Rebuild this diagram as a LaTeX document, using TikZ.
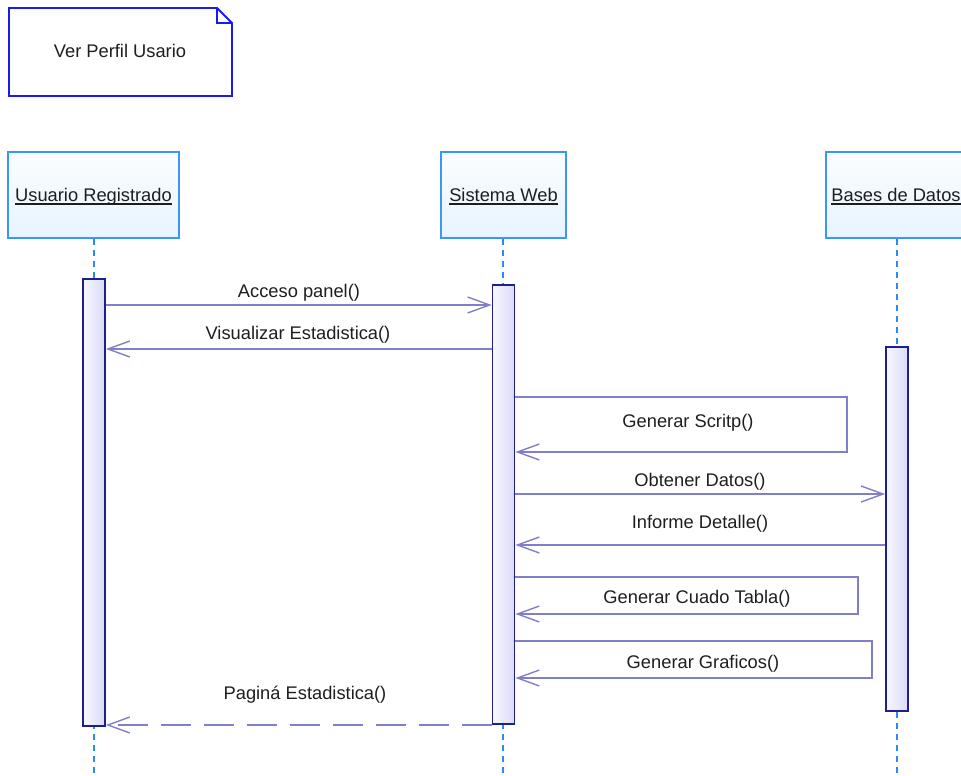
\documentclass[tikz,border=0pt]{standalone}
\usepackage{fontspec}
\setmainfont{Liberation Sans}
\usetikzlibrary{arrows.meta}

\definecolor{msg}{RGB}{128,128,200}
\definecolor{barline}{RGB}{30,30,140}
\definecolor{barfillL}{RGB}{248,248,255}
\definecolor{barfillR}{RGB}{218,218,248}
\definecolor{headline}{RGB}{60,150,245}
\definecolor{headfillA}{RGB}{250,253,255}
\definecolor{headfillB}{RGB}{232,244,255}
\definecolor{lifeline}{RGB}{40,140,240}
\definecolor{notebd}{RGB}{25,25,245}
\definecolor{txt}{RGB}{30,30,30}

\tikzset{
  lbl/.style={font=\fontsize{18.3}{22}\selectfont, text=txt, inner sep=0pt, anchor=base},
  headbox/.style={draw=headline, line width=1.7pt, top color=headfillA, bottom color=headfillB,
                  minimum height=86pt, inner sep=0pt},
  actbar/.style={draw=barline, line width=1.7pt, left color=barfillL, right color=barfillR,
                 minimum width=22pt, inner sep=0pt},
  life/.style={draw=lifeline, line width=1.5pt, dash pattern=on 6pt off 5pt},
  tip/.style={-{Straight Barb[length=22pt,width=16pt,line width=1.4pt]}},
  msgline/.style={draw=msg, line width=1.4pt, tip},
  retline/.style={draw=msg, line width=1.4pt, tip, dash pattern=on 30pt off 13pt},
  uline/.style={draw=txt, line width=1.5pt}
}

\begin{document}
\begin{tikzpicture}[x=1pt,y=-1pt]
  \useasboundingbox (0,0) rectangle (961,776);
  \clip (0,0) rectangle (961,776);

  % note in the upper left corner
  \draw[draw=notebd, line width=1.9pt, fill=white]
    (9,8) -- (217,8) -- (232,23) -- (232,96) -- (9,96) -- cycle;
  \draw[draw=notebd, line width=1.9pt] (217,8) -- (217,23) -- (232,23);
  \node[lbl] (note) at (120,58) {Ver Perfil Usario};

  % lifeline heads
  \node[headbox, minimum width=171pt] (hu) at (93.5,195) {};
  \node[headbox, minimum width=125pt] (hs) at (503.5,195) {};
  \node[headbox, minimum width=140pt] (hb) at (896,195) {};

  \node[lbl] (tu) at (93.5,201) {Usuario Registrado};
  \node[lbl] (ts) at (503.5,201) {Sistema Web};
  \node[lbl] (tb) at (896,201) {Bases de Datos};
  \foreach \t in {tu,ts,tb}
    \draw[uline] ([yshift=-2.8pt]\t.base west) -- ([yshift=-2.8pt]\t.base east);

  % lifelines
  \coordinate (eu) at (94,776);
  \coordinate (es) at (503,776);
  \coordinate (eb) at (897,776);
  \draw[life] (hu.south -| eu) -- (eu);
  \draw[life] (hs.south -| es) -- (es);
  \draw[life] (hb.south -| eb) -- (eb);

  % activation bars
  \node[actbar, minimum height=447pt] (a1) at (94,502.5) {};
  \node[actbar, minimum height=439pt] (a2) at (503.5,504.5) {};
  \node[actbar, minimum height=364pt] (a3) at (897,529) {};

  % messages
  \draw[msgline] (a1.east |- 0,305) -- (a2.west |- 0,305);
  \node[lbl] (m1) at (299,297) {Acceso panel()};

  \draw[msgline] (a2.west |- 0,349) -- (a1.east |- 0,349);
  \node[lbl] (m2) at (298,339) {Visualizar Estadistica()};

  \coordinate (s1a) at (847,397);
  \coordinate (s1b) at (847,452);
  \draw[msgline] (a2.east |- s1a) -- (s1a) -- (s1b) -- (a2.east |- s1b);
  \node[lbl] (m3) at (688,427) {Generar Scritp()};

  \draw[msgline] (a2.east |- 0,494) -- (a3.west |- 0,494);
  \node[lbl] (m4) at (700,486) {Obtener Datos()};

  \draw[msgline] (a3.west |- 0,545) -- (a2.east |- 0,545);
  \node[lbl] (m5) at (700,528) {Informe Detalle()};

  \coordinate (s2a) at (858,577);
  \coordinate (s2b) at (858,614);
  \draw[msgline] (a2.east |- s2a) -- (s2a) -- (s2b) -- (a2.east |- s2b);
  \node[lbl] (m6) at (697,603) {Generar Cuado Tabla()};

  \coordinate (s3a) at (872,641);
  \coordinate (s3b) at (872,678);
  \draw[msgline] (a2.east |- s3a) -- (s3a) -- (s3b) -- (a2.east |- s3b);
  \node[lbl] (m7) at (703,668) {Generar Graficos()};

  \draw[retline] (a2.west |- 0,725) -- (a1.east |- 0,725);
  \node[lbl] (m8) at (305,699) {Paginá Estadistica()};
\end{tikzpicture}
\end{document}
